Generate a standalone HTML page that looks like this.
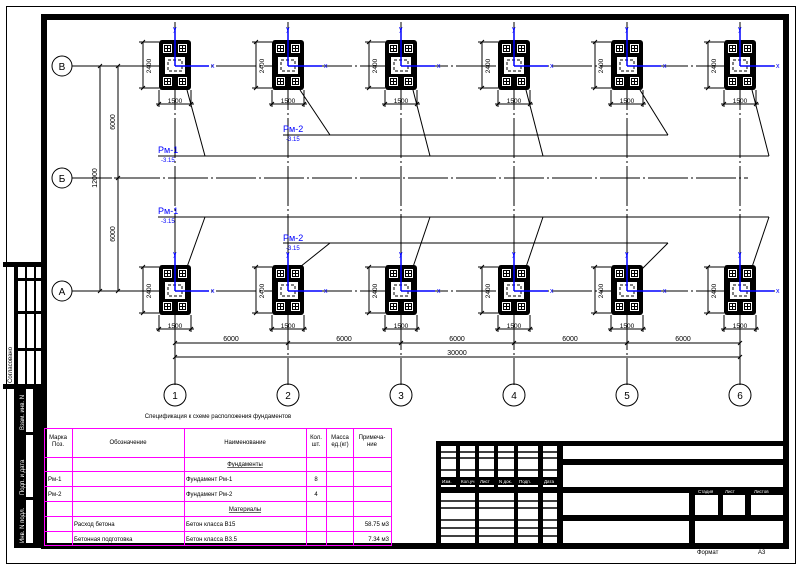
<!DOCTYPE html>
<html><head><meta charset="utf-8"><style>
html,body{margin:0;padding:0;background:#fff}
svg{display:block}
text{font-family:"Liberation Sans",sans-serif}
</style></head><body>
<svg width="805" height="573" viewBox="0 0 805 573" xmlns="http://www.w3.org/2000/svg">
<defs>
<g id="fd">
 <rect x="-16" y="-26" width="32" height="50" rx="3" fill="#000"/>
 <g fill="#fff">
  <rect x="-12" y="-22" width="9" height="9"/><rect x="3" y="-22" width="9" height="9"/>
  <rect x="-12" y="11" width="9" height="9"/><rect x="3" y="11" width="9" height="9"/>
  <rect x="-10" y="-9" width="20" height="17"/>
 </g>
 <g fill="none" stroke="#000" stroke-width="1">
  <rect x="-10.5" y="-20.5" width="6" height="6"/><path d="M-7.5 -20.5V-14.5M-10.5 -17.5H-4.5"/>
  <rect x="4.5" y="-20.5" width="6" height="6"/><path d="M7.5 -20.5V-14.5M4.5 -17.5H10.5"/>
  <rect x="-10.5" y="12.5" width="6" height="6"/><path d="M-7.5 12.5V18.5M-10.5 15.5H-4.5"/>
  <rect x="4.5" y="12.5" width="6" height="6"/><path d="M7.5 12.5V18.5M4.5 15.5H10.5"/>
  <rect x="-7" y="-6" width="14" height="11" stroke-dasharray="3,2"/>
  <path d="M-32 -24V22M-36 -24H-16M-36 22H-16M-34 -22L-30 -26M-34 24L-30 20"/>
  <path d="M-19 38H19M-16 24V41M16 24V41M-18 40L-14 36M14 40L18 36"/>
 </g>
 <g stroke="#0000ff" stroke-width="1.5" fill="none"><path d="M0 -38V0M0 0H34"/></g>
</g>
</defs>

<rect x="6.5" y="6.5" width="789" height="557" fill="none" stroke="#000" stroke-width="1"/>
<rect x="44" y="17" width="742" height="529" fill="none" stroke="#000" stroke-width="6"/>

<g stroke="#000" stroke-width="1" fill="none">
 <path d="M72 66H775M72 178H748M72 291H775" stroke-dasharray="40,3,2,3"/>
 <path d="M175 22V385M288 22V385M401 22V385M514 22V385M627 22V385M740 22V385" stroke-dasharray="40,3,2,3"/>
 <path d="M100 66V291M118 66V291M96 66H122M96 291H122M114 178H122"/>
 <path d="M98 68L102 64M98 293L102 289M116 68L120 64M116 180L120 176M116 293L120 289"/>
 <path d="M175 343H740M175 357H740M175 335V361M288 335V347M401 335V347M514 335V347M627 335V347M740 335V361"/>
 <path d="M173 345L177 341M286 345L290 341M399 345L403 341M512 345L516 341M625 345L629 341M738 345L742 341M173 359L177 355M738 359L742 355"/>
 <path d="M158 156H769M283 135H668M158 217H769M283 243H668"/>
 <path d="M187 90L205 156M300 90L330 135M413 90L430 156M526 90L543 156M640 90L668 135M752 90L769 156"/>
 <path d="M187 267L205 217M300 267L330 243M413 267L430 217M526 267L543 217M642 269L668 243M752 267L769 217"/>
 <circle cx="62" cy="66" r="10"/><circle cx="62" cy="178" r="10"/><circle cx="62" cy="291" r="10"/>
 <circle cx="175" cy="395" r="11"/><circle cx="288" cy="395" r="11"/><circle cx="401" cy="395" r="11"/>
 <circle cx="514" cy="395" r="11"/><circle cx="627" cy="395" r="11"/><circle cx="740" cy="395" r="11"/>
</g>
<g font-size="10" text-anchor="middle">
 <text x="62" y="70">В</text><text x="62" y="182">Б</text><text x="62" y="295">А</text>
 <text x="175" y="399">1</text><text x="288" y="399">2</text><text x="401" y="399">3</text>
 <text x="514" y="399">4</text><text x="627" y="399">5</text><text x="740" y="399">6</text>
</g>
<g font-size="7" text-anchor="middle">
 <text x="231" y="341">6000</text><text x="344" y="341">6000</text><text x="457" y="341">6000</text>
 <text x="570" y="341">6000</text><text x="683" y="341">6000</text><text x="457" y="355">30000</text>
 <text transform="translate(97,178) rotate(-90)">12000</text>
 <text transform="translate(115,122) rotate(-90)">6000</text>
 <text transform="translate(115,234) rotate(-90)">6000</text>
</g>

<g>
 <use href="#fd" x="175" y="66"/><use href="#fd" x="288" y="66"/><use href="#fd" x="401" y="66"/>
 <use href="#fd" x="514" y="66"/><use href="#fd" x="627" y="66"/><use href="#fd" x="740" y="66"/>
 <use href="#fd" x="175" y="291"/><use href="#fd" x="288" y="291"/><use href="#fd" x="401" y="291"/>
 <use href="#fd" x="514" y="291"/><use href="#fd" x="627" y="291"/><use href="#fd" x="740" y="291"/>
</g>
<g font-size="6.5" text-anchor="middle">
 <text x="175" y="103">1500</text><text x="288" y="103">1500</text><text x="401" y="103">1500</text>
 <text x="514" y="103">1500</text><text x="627" y="103">1500</text><text x="740" y="103">1500</text>
 <text x="175" y="328">1500</text><text x="288" y="328">1500</text><text x="401" y="328">1500</text>
 <text x="514" y="328">1500</text><text x="627" y="328">1500</text><text x="740" y="328">1500</text>
 <text transform="translate(151,66) rotate(-90)">2400</text><text transform="translate(264,66) rotate(-90)">2400</text>
 <text transform="translate(377,66) rotate(-90)">2400</text><text transform="translate(490,66) rotate(-90)">2400</text>
 <text transform="translate(603,66) rotate(-90)">2400</text><text transform="translate(716,66) rotate(-90)">2400</text>
 <text transform="translate(151,291) rotate(-90)">2400</text><text transform="translate(264,291) rotate(-90)">2400</text>
 <text transform="translate(377,291) rotate(-90)">2400</text><text transform="translate(490,291) rotate(-90)">2400</text>
 <text transform="translate(603,291) rotate(-90)">2400</text><text transform="translate(716,291) rotate(-90)">2400</text>
</g>
<g font-size="7" fill="#0000ff">
 <text x="173" y="31">y</text><text x="286" y="31">y</text><text x="399" y="31">y</text><text x="512" y="31">y</text><text x="625" y="31">y</text><text x="738" y="31">y</text>
 <text x="211" y="68">x</text><text x="324" y="68">x</text><text x="437" y="68">x</text><text x="550" y="68">x</text><text x="663" y="68">x</text><text x="776" y="68">x</text>
 <text x="173" y="256">y</text><text x="286" y="256">y</text><text x="399" y="256">y</text><text x="512" y="256">y</text><text x="625" y="256">y</text><text x="738" y="256">y</text>
 <text x="211" y="293">x</text><text x="324" y="293">x</text><text x="437" y="293">x</text><text x="550" y="293">x</text><text x="663" y="293">x</text><text x="776" y="293">x</text>
</g>
<g fill="#0000ff">
 <text x="158" y="153" font-size="9">Рм-1</text><text x="161" y="162" font-size="6">-3.15</text>
 <text x="283" y="132" font-size="9">Рм-2</text><text x="286" y="141" font-size="6">-3.15</text>
 <text x="158" y="214" font-size="9">Рм-1</text><text x="161" y="223" font-size="6">-3.15</text>
 <text x="283" y="241" font-size="9">Рм-2</text><text x="286" y="250" font-size="6">-3.15</text>
</g>

<g fill="#000">
 <rect x="3" y="262" width="44" height="5"/>
 <rect x="3" y="384" width="44" height="5"/>
 <rect x="14" y="262" width="4" height="286"/>
 <rect x="18" y="278" width="26" height="3"/>
 <rect x="18" y="311" width="26" height="3"/>
 <rect x="18" y="348" width="26" height="3"/>
 <rect x="25" y="267" width="2" height="120"/>
 <rect x="34" y="267" width="2" height="120"/>
 <rect x="18" y="389" width="8" height="157"/>
 <rect x="33" y="389" width="9" height="157"/>
 <rect x="18" y="432" width="26" height="3"/>
 <rect x="18" y="497" width="26" height="3"/>
 <rect x="14" y="543" width="33" height="5"/>
</g>
<g font-size="6">
 <text transform="translate(12,383) rotate(-90)">Согласовано</text>
 <text transform="translate(24,430) rotate(-90)" fill="#fff">Взам. инв. N</text>
 <text transform="translate(24,495) rotate(-90)" fill="#fff">Подп. и дата</text>
 <text transform="translate(24,543) rotate(-90)" fill="#fff">Инв. N подл.</text>
</g>

<text x="218" y="418" font-size="6" text-anchor="middle">Спецификация к схеме расположения фундаментов</text>
<g stroke="#ff00ff" stroke-width="1" fill="none">
 <rect x="44.5" y="428.5" width="347" height="117"/>
 <path d="M72.5 428V546M184.5 428V546M306.5 428V546M326.5 428V546M353.5 428V546"/>
 <path d="M44 457.5H392M44 471.5H392M44 486.5H392M44 501.5H392M44 516.5H392M44 531.5H392"/>
</g>
<g font-size="6">
 <text x="58" y="439" text-anchor="middle">Марка</text><text x="58" y="446" text-anchor="middle">Поз.</text>
 <text x="128" y="444" text-anchor="middle">Обозначение</text>
 <text x="245" y="444" text-anchor="middle">Наименование</text>
 <text x="316" y="439" text-anchor="middle">Кол.</text><text x="316" y="446" text-anchor="middle">шт.</text>
 <text x="340" y="439" text-anchor="middle">Масса</text><text x="340" y="446" text-anchor="middle">ед.(кг)</text>
 <text x="372" y="439" text-anchor="middle">Примеча-</text><text x="372" y="446" text-anchor="middle">ние</text>
 <text x="245" y="466" text-anchor="middle" text-decoration="underline">Фундаменты</text>
 <text x="48" y="481">Рм-1</text><text x="186" y="481">Фундамент Рм-1</text><text x="316" y="481" text-anchor="middle">8</text>
 <text x="48" y="496">Рм-2</text><text x="186" y="496">Фундамент Рм-2</text><text x="316" y="496" text-anchor="middle">4</text>
 <text x="245" y="511" text-anchor="middle" text-decoration="underline">Материалы</text>
 <text x="74" y="526">Расход бетона</text><text x="186" y="526">Бетон класса В15</text><text x="389" y="526" text-anchor="end">58.75 м3</text>
 <text x="74" y="541">Бетонная подготовка</text><text x="186" y="541">Бетон класса В3.5</text><text x="389" y="541" text-anchor="end">7.34 м3</text>
</g>

<g fill="#000">
 <rect x="436" y="441" width="350" height="5"/>
 <rect x="436" y="441" width="5" height="107"/>
 <rect x="557" y="441" width="6" height="107"/>
 <rect x="563" y="459" width="223" height="6"/>
 <rect x="436" y="487" width="350" height="6"/>
 <rect x="563" y="515" width="223" height="6"/>
 <rect x="689" y="487" width="6" height="59"/>
 <rect x="718" y="487" width="5" height="28"/>
 <rect x="745" y="487" width="6" height="28"/>
 <rect x="695" y="487" width="91" height="8"/>
 <rect x="436" y="477" width="127" height="8"/>
 <rect x="456" y="446" width="4" height="41"/>
 <rect x="475" y="446" width="4" height="100"/>
 <rect x="494" y="446" width="4" height="41"/>
 <rect x="514" y="446" width="4" height="100"/>
 <rect x="538" y="446" width="5" height="100"/>
</g>
<g stroke="#000" stroke-width="1.5">
 <path d="M441 452H557M441 458H557M441 470H557"/>
 <path d="M441 501H557M441 508H557M441 520H557M441 528H557M441 536H557"/>
</g>
<g font-size="4.5" fill="#fff">
 <text x="442" y="483">Изм.</text><text x="461" y="483">Кол.уч</text><text x="480" y="483">Лист</text>
 <text x="499" y="483">N док.</text><text x="519" y="483">Подп.</text><text x="544" y="483">Дата</text>
 <text x="698" y="493">Стадия</text><text x="725" y="493">Лист</text><text x="754" y="493">Листов</text>
</g>
<text x="697" y="554" font-size="6">Формат</text>
<text x="758" y="554" font-size="6">А3</text>
</svg>
</body></html>
